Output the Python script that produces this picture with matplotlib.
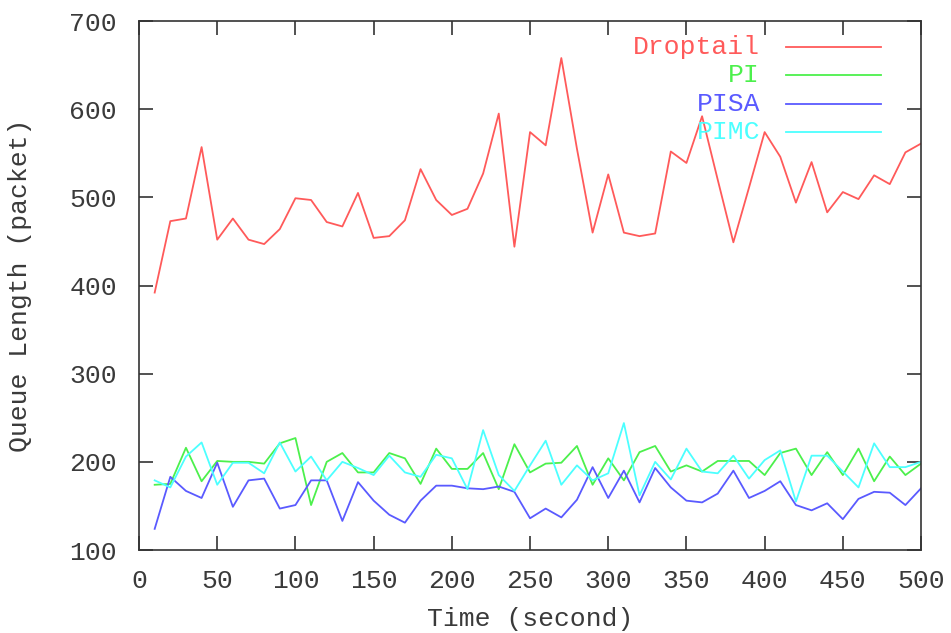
import numpy as np
import matplotlib
matplotlib.use("Agg")
import matplotlib.pyplot as plt

# time axis (seconds) and queue lengths (packets)
time = np.arange(10, 501, 10)

droptail = [392, 473, 476, 557, 452, 476, 452, 447, 464, 499,
            497, 472, 467, 505, 454, 456, 474, 532, 497, 480,
            487, 527, 595, 444, 574, 559, 658, 555, 460, 526,
            460, 456, 459, 552, 539, 592, 520, 449, 511, 574,
            546, 494, 540, 483, 506, 498, 525, 515, 551, 561]

pi = [174, 175, 216, 178, 201, 200, 200, 198, 221, 227,
      151, 200, 210, 188, 188, 210, 204, 175, 215, 192,
      192, 210, 169, 220, 188, 198, 199, 218, 174, 204,
      179, 211, 218, 189, 196, 189, 201, 201, 201, 185,
      210, 215, 185, 211, 185, 215, 178, 206, 185, 198]

pisa = [124, 183, 167, 159, 199, 149, 179, 181, 147, 151,
        179, 179, 133, 177, 156, 140, 131, 156, 173, 173,
        170, 169, 172, 166, 136, 147, 137, 157, 194, 159,
        190, 154, 193, 171, 156, 154, 164, 190, 159, 167,
        178, 151, 145, 153, 135, 158, 166, 165, 151, 170]

pimc = [179, 171, 206, 222, 174, 199, 199, 187, 222, 189,
        206, 179, 200, 193, 185, 207, 188, 183, 208, 204,
        169, 236, 185, 167, 196, 224, 174, 196, 179, 187,
        244, 162, 200, 180, 215, 189, 187, 207, 181, 202,
        213, 155, 207, 207, 189, 171, 221, 194, 194, 200]

names = ["Droptail", "PI", "PISA", "PIMC"]
colors = ["#ff5a5a", "#4cf04c", "#5a5aff", "#4cffff"]
series = [droptail, pi, pisa, pimc]

plt.rcParams['font.family'] = ['Liberation Mono', 'DejaVu Sans Mono']

fig = plt.figure(figsize=(9.51, 6.33), dpi=100)
ax = fig.add_axes([0.1462, 0.1311, 0.8223, 0.8357])

for vals, c in zip(series, colors):
    ax.plot(time, vals, color=c, lw=1.3)

txt = '#3a3a3a'
ax.set_xlim(0, 500)
ax.set_ylim(100, 700)
ax.set_xticks(np.arange(0, 501, 50))
ax.set_yticks(np.arange(100, 701, 100))
ax.tick_params(direction='in', length=10, width=1.2, color='#333333',
               top=True, right=True, labelsize=19, labelcolor=txt)
ax.tick_params(axis='y', pad=16)
ax.tick_params(axis='x', pad=14)
for sp in ax.spines.values():
    sp.set_color('#333333')
    sp.set_linewidth(1.2)

ax.set_xlabel("Time (second)", fontsize=19, color=txt)
ax.set_ylabel("Queue Length (packet)", fontsize=19, color=txt)
ax.xaxis.set_label_coords(0.5, -0.108)
ax.yaxis.set_label_coords(-0.137, 0.5)

# gnuplot-style key: right-aligned label, sample line to its right
rows = [0.951, 0.898, 0.843, 0.790]
for name, c, yy in zip(names, colors, rows):
    ax.text(0.794, yy, name, transform=ax.transAxes, ha='right', va='center',
            fontsize=19, color=c)
    ax.plot([0.827, 0.949], [yy, yy], transform=ax.transAxes, color=c, lw=1.3)

fig.savefig("out.png", dpi=100)
